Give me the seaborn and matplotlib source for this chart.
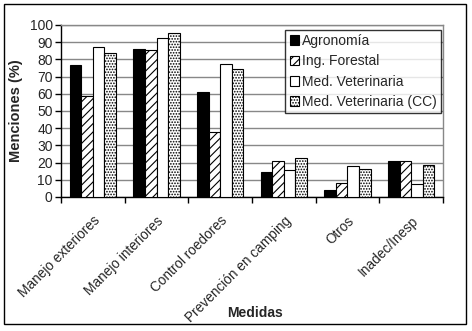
import matplotlib
matplotlib.use("Agg")
import matplotlib.pyplot as plt
from matplotlib.patches import Rectangle, Patch
import numpy as np
import pandas as pd
import seaborn as sns

medidas = ["Manejo exteriores", "Manejo interiores", "Control roedores",
           "Prevención en camping", "Otros", "Inadec/Inesp"]
carreras = ["Agronomía", "Ing. Forestal", "Med. Veterinaria", "Med. Veterinaria (CC)"]

agronomia = [76.6, 86.0, 61.0, 14.5, 4.0, 21.0]
forestal = [58.9, 85.3, 37.6, 21.2, 8.3, 21.2]
veterinaria = [87.0, 92.2, 77.1, 15.6, 17.9, 7.7]
veterinaria_cc = [83.5, 95.2, 74.2, 22.5, 16.0, 18.7]

yticks = list(range(0, 101, 10))

series = [agronomia, forestal, veterinaria, veterinaria_cc]
df = pd.DataFrame({
    "Medida": np.repeat([medidas], len(carreras), axis=0).ravel(),
    "Carrera": np.repeat(carreras, len(medidas)),
    "Valor": np.concatenate(series),
})

sns.set_style("white")
plt.rcParams["font.family"] = ["Liberation Sans", "DejaVu Sans"]
plt.rcParams["hatch.linewidth"] = 0.8

fig = plt.figure(figsize=(4.72, 3.31), dpi=100)
ax = fig.add_axes([61 / 472, 1 - 197 / 331, (443 - 61) / 472, (197 - 25) / 331])

faces = ["black", "white", "white", "white"]
hatches = [None, "////", None, "......"]

sns.barplot(data=df, x="Medida", y="Valor", hue="Carrera", order=medidas,
            hue_order=carreras, palette=dict(zip(carreras, faces)),
            width=0.73, edgecolor="black", linewidth=0.8, legend=False,
            errorbar=None, ax=ax, zorder=3)

for cont, h in zip(ax.containers, hatches):
    for bar in cont:
        bar.set_edgecolor("black")
        if h:
            bar.set_hatch(h)

ax.set_ylim(0, 100)
ax.set_xlim(-0.5, len(medidas) - 0.5)
ax.set_yticks(yticks)
ax.grid(axis="y", color="#888888", linewidth=1, zorder=0)
ax.set_axisbelow(True)

for side in ["left", "bottom"]:
    ax.spines[side].set_color("black")
    ax.spines[side].set_linewidth(1)
for side in ["top", "right"]:
    ax.spines[side].set_visible(True)
    ax.spines[side].set_color("#888888")
    ax.spines[side].set_linewidth(1)

ax.tick_params(axis="y", direction="out", length=4, width=1, color="black",
               labelsize=10, pad=2, left=True)
ax.set_xticks(range(len(medidas)))
ax.set_xticklabels(medidas, rotation=45, ha="right", rotation_mode="anchor",
                   fontsize=9.8)
ax.tick_params(axis="x", which="major", length=0, pad=12)
ax.set_xticks(np.arange(-0.5, len(medidas), 1.0), minor=True)
ax.tick_params(axis="x", which="minor", direction="out", length=4, width=1,
               color="black", bottom=True)

ax.set_xlabel("")
ax.set_ylabel("Menciones (%)", fontsize=10.5, fontweight="bold")
ax.yaxis.set_label_coords(-0.10, 0.5)
fig.text(255 / 472, 1 - 313 / 331, "Medidas", fontsize=10, fontweight="bold",
         ha="center", va="center")

handles = [Patch(facecolor=f, edgecolor="black", hatch=h, linewidth=0.8)
           for f, h in zip(faces, hatches)]
leg = ax.legend(handles, carreras, loc="upper right",
                bbox_to_anchor=((441 - 61) / 382, (197 - 30) / 172),
                frameon=True, fancybox=False, fontsize=10, handlelength=0.7,
                handleheight=0.7, handletextpad=0.2, borderpad=0.3,
                labelspacing=0.45, borderaxespad=0)
leg.get_frame().set_edgecolor("black")
leg.get_frame().set_linewidth(1)

fig.add_artist(Rectangle((4 / 472, 1 - 324 / 331), (466 - 4) / 472,
                         (324 - 4) / 331, transform=fig.transFigure,
                         fill=False, edgecolor="black", linewidth=1))

fig.savefig("out.png", dpi=100, facecolor="white")
